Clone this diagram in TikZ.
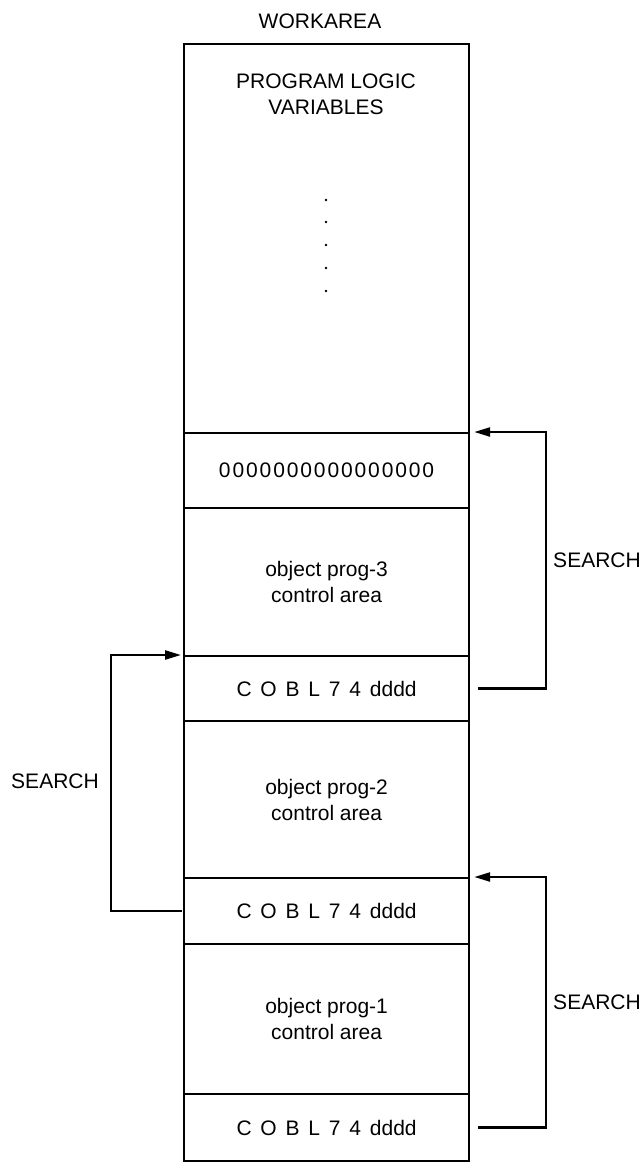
\documentclass[tikz,border=0pt]{standalone}
\usepackage{fontspec}
\setmainfont{Liberation Sans}
\usetikzlibrary{arrows.meta}
\newcommand{\coblword}{C\hspace{0.42em}O\hspace{0.42em}B\hspace{0.42em}L\hspace{0.42em}7\hspace{0.42em}4\hspace{0.42em}dddd}
\begin{document}
\begin{tikzpicture}[x=1pt,y=-1pt,
  lbl/.style={font=\fontsize{21}{26}\selectfont, inner sep=0pt},
  cell/.style={draw, line width=2.2pt},
  conn/.style={line width=2.4pt, -{Triangle[length=16pt,width=9pt]}}]
\useasboundingbox (0,0) rectangle (642,1163);
% cells
\node[cell, minimum width=285pt, minimum height=389pt, anchor=north west, inner sep=0pt] (top) at (183,43) {};
\node[cell, minimum width=285pt, minimum height=75pt, anchor=north west] (zero) at (183,432) {};
\node[cell, minimum width=285pt, minimum height=148pt, anchor=north west] (p3) at (183,507) {};
\node[cell, minimum width=285pt, minimum height=65pt, anchor=north west] (c3) at (183,655) {};
\node[cell, minimum width=285pt, minimum height=157pt, anchor=north west] (p2) at (183,720) {};
\node[cell, minimum width=285pt, minimum height=66pt, anchor=north west] (c2) at (183,877) {};
\node[cell, minimum width=285pt, minimum height=150pt, anchor=north west] (p1) at (183,943) {};
\node[cell, minimum width=285pt, minimum height=67pt, anchor=north west] (c1) at (183,1093) {};
% texts
\node[lbl] (wa) at (320,21) {WORKAREA};
\node[lbl, align=center] (plv) at (326,94) {PROGRAM LOGIC\\VARIABLES};
\foreach \yy [count=\i] in {200,222,245,268,291} \node[circle,fill,inner sep=0pt,minimum size=2.8pt] (d\i) at (326,\yy) {};
\node[lbl] (zt) at (zero.center) {\addfontfeature{LetterSpace=9}0000000000000000};
\node[lbl, align=center] (p3t) at (p3.center) {object prog-3\\control area};
\node[lbl] (c3t) at (c3.center) {\coblword};
\node[lbl, align=center] (p2t) at (p2.center) {object prog-2\\control area};
\node[lbl] (c2t) at (c2.center) {\coblword};
\node[lbl, align=center] (p1t) at (p1.center) {object prog-1\\control area};
\node[lbl] (c1t) at (c1.center) {\coblword};
\node[lbl] (s1) at (597,560) {SEARCH};
\node[lbl] (s2) at (55,781) {SEARCH};
\node[lbl] (s3) at (597,1002) {SEARCH};
% connectors
\coordinate (r1) at (546,0);
\coordinate (l2) at (111,0);
\draw[conn] ([xshift=8pt]c3.east) -| (r1 |- zero.north) -- ([xshift=4pt]zero.north east);
\draw[conn] ([xshift=-1pt]c2.west) -| (l2 |- c3.north) -- ([xshift=-2pt]c3.north west);
\draw[conn] ([xshift=8pt]c1.east) -| (r1 |- c2.north) -- ([xshift=4pt]c2.north east);
\end{tikzpicture}
\end{document}
